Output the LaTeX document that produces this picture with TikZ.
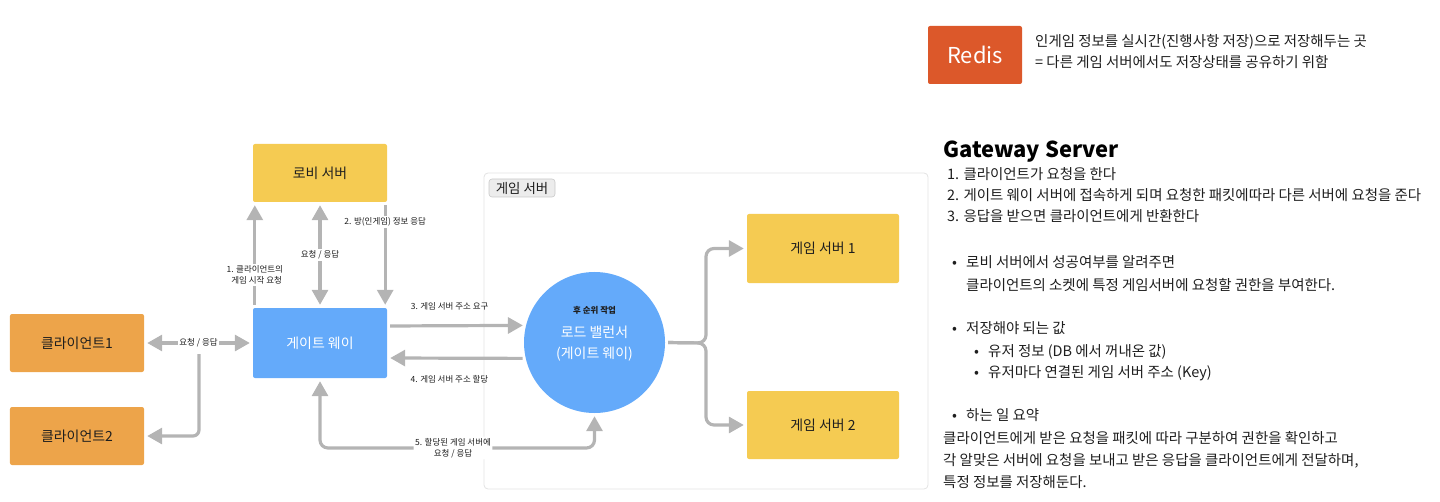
\documentclass[tikz,border=0pt]{standalone}
\usepackage{fontspec}
\setmainfont{Noto Sans CJK KR}
\usetikzlibrary{arrows.meta}
\definecolor{clientcol}{RGB}{237,164,74}
\definecolor{servercol}{RGB}{245,203,82}
\definecolor{gatecol}{RGB}{100,170,250}
\definecolor{rediscol}{RGB}{220,88,42}
\definecolor{edgecol}{RGB}{180,180,180}
\definecolor{groupcol}{RGB}{226,226,226}
\definecolor{tagcol}{RGB}{236,236,236}
\definecolor{tagline}{RGB}{200,200,200}
\definecolor{textcol}{RGB}{30,30,30}
\begin{document}
\begin{tikzpicture}[x=1bp,y=-1bp,>={Triangle[width=16bp,length=15bp]},line join=round,
  box/.style={rectangle,rounded corners=2bp,minimum width=134bp,minimum height=58bp,inner sep=0pt,
    font=\fontsize{14}{16}\selectfont,text=textcol},
  edge/.style={draw=edgecol,line width=3.2bp,shorten >=3bp,shorten <=3bp},
  lbl/.style={fill=white,inner sep=1.5bp,font=\fontsize{8.5}{11}\selectfont,text=textcol,align=center},
  note/.style={anchor=base west,inner sep=0pt,font=\fontsize{14.5}{16}\selectfont,text=textcol}]
\useasboundingbox (0,0) rectangle (1440,502);
%%
  % Node: game server group
  \node[draw=groupcol,line width=0.8bp,rounded corners=4bp,minimum width=444bp,minimum height=316bp] (gamegroup) at (706,331) {};
  \node[draw=tagline,fill=tagcol,line width=0.6bp,rounded corners=3bp,minimum width=66bp,minimum height=18bp,inner sep=0pt,
    font=\fontsize{13.5}{15}\selectfont,text=textcol] (gametag) at (522,188) {게임 서버};
  % Node: clients
  \node[box,fill=clientcol] (client1) at (77,343) {클라이언트1};
  \node[box,fill=clientcol] (client2) at (77,436) {클라이언트2};
  % Node: lobby, gateway
  \node[box,fill=servercol] (lobby) at (320,173) {로비 서버};
  \node[box,fill=gatecol,minimum height=70bp,text=white] (gateway) at (320,343) {게이트 웨이};
  % Node: load balancer
  \node[circle,fill=gatecol,minimum size=141bp,inner sep=0pt] (lb) at (594.5,342.5) {};
  \node[inner sep=0pt,font=\fontsize{8.5}{10}\selectfont\bfseries,text=textcol] (lbnote) at (594.5,310) {후 순위 작업};
  \node[inner sep=0pt,font=\fontsize{14}{21}\selectfont,text=white,align=center] (lbname) at (594.5,344) {로드 밸런서\\(게이트 웨이)};
  % Node: game servers
  \node[box,fill=servercol,minimum width=152bp,minimum height=69bp] (gs1) at (823,248.5) {게임 서버 1};
  \node[box,fill=servercol,minimum width=152bp,minimum height=68bp] (gs2) at (823,425) {게임 서버 2};
  % Node: redis
  \node[box,fill=rediscol,minimum width=94bp,text=white,font=\fontsize{22}{24}\selectfont] (redis) at (975,55) {Redis};
%%
  % Edge: gateway -> lobby
  \draw[edge,->] ([xshift=2bp]gateway.north west) -- ([xshift=2bp]lobby.south west)
    node[lbl,pos=0.31] (lbl1) {1. 클라이언트의\\\ \ 게임 시작 요청};
  % Edge: gateway <-> lobby
  \draw[edge,<->] (gateway.north) -- (lobby.south) node[lbl,pos=0.5] (lblreq) {요청 / 응답};
  % Edge: lobby -> gateway
  \draw[edge,->] ([xshift=-2bp]lobby.south east) -- ([xshift=-2bp]gateway.north east)
    node[lbl,pos=0.19] (lbl2) {2. 방(인게임) 정보 응답};
  % Edge: client1 <-> gateway
  \draw[edge,<->] (client1.east) -- (gateway.west) node[lbl,midway] (lblcl) {요청 / 응답};
  % Edge: client2 -> join
  \coordinate (c2top) at (199,351);
  \draw[edge,->,rounded corners=6bp] (c2top) |- (client2.east);
  % Edge: gateway -> lb
  \draw[edge,->] ([yshift=17bp]gateway.east) -- (lb.166)
    node[lbl,pos=0.45,above=12bp,fill=none] (lbl3) {3. 게임 서버 주소 요구};
  % Edge: lb -> gateway
  \draw[edge,->] (lb.193) -- ([yshift=-15bp]gateway.east)
    node[lbl,pos=0.55,below=14bp,fill=none] (lbl4) {4. 게임 서버 주소 할당};
  % Edge: gateway <-> lb
  \coordinate (bend5) at (453,448);
  \draw[edge,<->,rounded corners=8bp] (gateway.south) |- (bend5) node[lbl] (lbl5) {5. 할당된 게임 서버에\\요청 / 응답} -| (lb.south);
  % Edge: lb -> gs1, gs2
  \coordinate (split) at (706,343);
  \draw[edge,->,rounded corners=8bp] (lb.east) -- (split) |- (gs1.west);
  \draw[edge,->,rounded corners=8bp] (lb.east) -- (split) |- (gs2.west);
%%
  % Notes: redis
  \node[note] (rnote1) at (1035,47) {인게임 정보를 실시간(진행사항 저장)으로 저장해두는 곳};
  \node[note] (rnote2) at (1035,68) {= 다른 게임 서버에서도 저장상태를 공유하기 위함};
  % Notes: gateway server
  \node[note,font=\fontsize{22}{26}\selectfont\bfseries,text=black] (title) at (943,158) {Gateway Server};
  \node[note] (step1) at (947,180) {1. 클라이언트가 요청을 한다};
  \node[note] (step2) at (947,201) {2. 게이트 웨이 서버에 접속하게 되며 요청한 패킷에따라 다른 서버에 요청을 준다};
  \node[note] (step3) at (947,222) {3. 응답을 받으면 클라이언트에게 반환한다};
  \node[note] (dot1) at (952,268) {•};
  \node[note] (bul1a) at (966,268) {로비 서버에서 성공여부를 알려주면};
  \node[note] (bul1b) at (966,290) {클라이언트의 소켓에 특정 게임서버에 요청할 권한을 부여한다.};
  \node[note] (dot2) at (952,333) {•};
  \node[note] (bul2) at (966,333) {저장해야 되는 값};
  \node[note] (dot2a) at (974,356) {•};
  \node[note] (bul2a) at (988,356) {유저 정보 (DB 에서 꺼내온 값)};
  \node[note] (dot2b) at (974,377) {•};
  \node[note] (bul2b) at (988,377) {유저마다 연결된 게임 서버 주소 (Key)};
  \node[note] (dot3) at (952,420) {•};
  \node[note] (bul3) at (966,420) {하는 일 요약};
  \node[note] (sum1) at (943,443) {클라이언트에게 받은 요청을 패킷에 따라 구분하여 권한을 확인하고};
  \node[note] (sum2) at (943,465) {각 알맞은 서버에 요청을 보내고 받은 응답을 클라이언트에게 전달하며,};
  \node[note] (sum3) at (943,487) {특정 정보를 저장해둔다.};
%
\end{tikzpicture}
\end{document}
